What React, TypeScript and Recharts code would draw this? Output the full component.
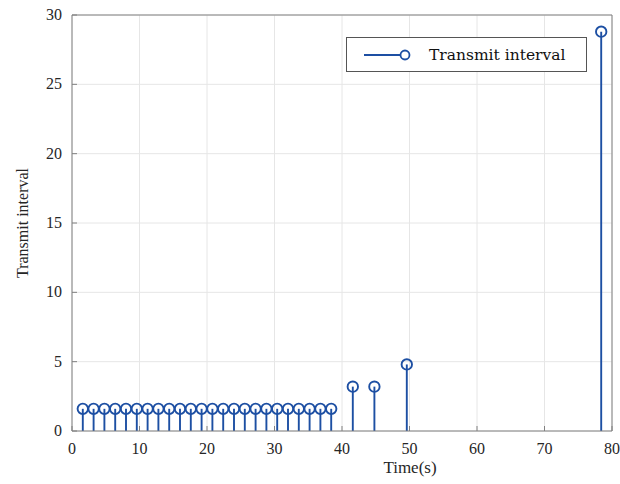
import { ComposedChart, Scatter, XAxis, YAxis, CartesianGrid, ReferenceLine, Legend } from 'recharts';

const times = [
  1.6, 3.2, 4.8, 6.4, 8.0, 9.6, 11.2, 12.8, 14.4, 16.0, 17.6, 19.2,
  20.8, 22.4, 24.0, 25.6, 27.2, 28.8, 30.4, 32.0, 33.6, 35.2, 36.8, 38.4,
  41.6, 44.8, 49.6, 78.4,
];
const intervals = [
  1.6, 1.6, 1.6, 1.6, 1.6, 1.6, 1.6, 1.6, 1.6, 1.6, 1.6, 1.6,
  1.6, 1.6, 1.6, 1.6, 1.6, 1.6, 1.6, 1.6, 1.6, 1.6, 1.6, 1.6,
  3.2, 3.2, 4.8, 28.8,
];
const xTicks = [0, 10, 20, 30, 40, 50, 60, 70, 80];
const yTicks = [0, 5, 10, 15, 20, 25, 30];

const data = times.map((t, i) => ({ t, v: intervals[i] }));

const BLUE = '#1d4fa3';
const AXIS = '#808080';
const FONT = '"Liberation Serif", "DejaVu Serif", serif';

const XTick = ({ x, y, payload }: any) => (
  <g>
    <line x1={x} y1={y} x2={x} y2={y - 5} stroke={AXIS} />
    <text x={x} y={y} dy={23} textAnchor="middle" fontFamily={FONT} fontSize={16} fill="#262626">
      {payload.value}
    </text>
  </g>
);

const YTick = ({ x, y, payload }: any) => (
  <g>
    <line x1={x} y1={y} x2={x + 5} y2={y} stroke={AXIS} />
    <text x={x - 10} y={y} dy={5} textAnchor="end" fontFamily={FONT} fontSize={16} fill="#262626">
      {payload.value}
    </text>
  </g>
);

const StemHead = ({ cx, cy }: any) => (
  <circle cx={cx} cy={cy} r={5.2} fill="none" stroke={BLUE} strokeWidth={1.9} />
);

const LegendBox = () => (
  <div
    style={{
      width: 241,
      height: 35,
      boxSizing: 'border-box',
      border: '1px solid #555',
      background: '#fff',
      display: 'flex',
      alignItems: 'center',
    }}
  >
    <svg width={70} height={20} style={{ marginLeft: 12 }}>
      <line x1={5} y1={10} x2={45} y2={10} stroke={BLUE} strokeWidth={1.8} />
      <circle cx={46} cy={10} r={4.5} fill="#fff" stroke={BLUE} strokeWidth={1.8} />
    </svg>
    <span style={{ fontFamily: '"DejaVu Serif", serif', fontSize: 15.5, color: '#111', marginLeft: 0 }}>
      Transmit interval
    </span>
  </div>
);

export default function App() {
  return (
    <div style={{ position: 'absolute', left: 0, top: 0 }}>
      <ComposedChart width={620} height={484} data={data} margin={{ top: 15, right: 8, left: 0, bottom: 0 }}>
        <CartesianGrid stroke="#e6e6e6" />
        <XAxis
          dataKey="t"
          type="number"
          domain={[0, 80]}
          ticks={xTicks}
          stroke={AXIS}
          tickSize={0}
          tickMargin={0}
          tickLine={false}
          height={53}
          tick={<XTick />}
          label={(props: any) => (
            <text
              x={410}
              y={props.viewBox.y + 42}
              textAnchor="middle"
              fontFamily={FONT}
              fontSize={17}
              fill="#262626"
            >
              Time(s)
            </text>
          )}
        />
        <YAxis
          type="number"
          domain={[0, 30]}
          ticks={yTicks}
          stroke={AXIS}
          tickSize={0}
          tickMargin={0}
          tickLine={false}
          width={72}
          tick={<YTick />}
          label={(props: any) => {
            const cx = 22;
            const cy = props.viewBox.y + props.viewBox.height / 2;
            return (
              <text
                x={cx}
                y={cy}
                transform={`rotate(-90 ${cx} ${cy})`}
                textAnchor="middle"
                dominantBaseline="central"
                fontFamily={FONT}
                fontSize={16}
                fill="#262626"
              >
                Transmit interval
              </text>
            );
          }}
        />
        <ReferenceLine y={30} stroke={AXIS} />
        <ReferenceLine x={80} stroke={AXIS} />
        {data.map((d, i) => (
          <ReferenceLine
            key={i}
            segment={[{ x: d.t, y: 0 }, { x: d.t, y: d.v }]}
            stroke={BLUE}
            strokeWidth={1.9}
          />
        ))}
        <Scatter dataKey="v" shape={<StemHead />} isAnimationActive={false} />
        <Legend
          verticalAlign="middle"
          align="center"
          content={<LegendBox />}
          wrapperStyle={{ left: 346, top: 37, width: 241, height: 35 }}
        />
      </ComposedChart>
    </div>
  );
}
